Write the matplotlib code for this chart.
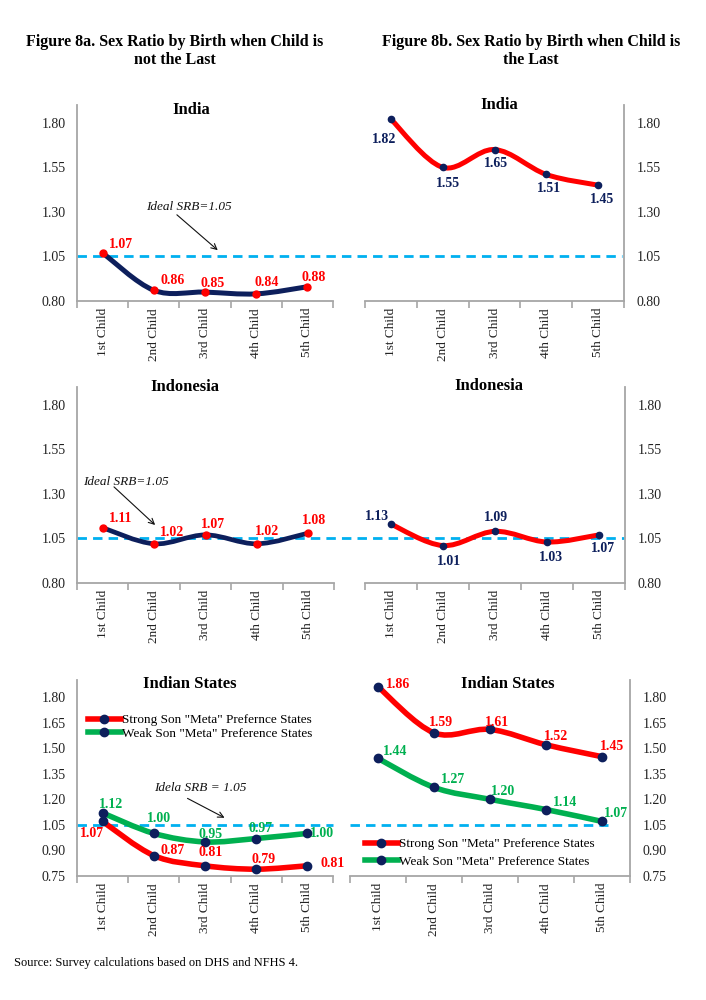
import numpy as np
import matplotlib
matplotlib.use("Agg")
import matplotlib.pyplot as plt
from matplotlib.path import Path
from matplotlib.patches import PathPatch
from matplotlib.lines import Line2D

# ---------------- data ----------------
categories = ["1st Child", "2nd Child", "3rd Child", "4th Child", "5th Child"]
ideal_srb = 1.05

india_not_last = [1.07, 0.86, 0.85, 0.84, 0.88]
india_last = [1.82, 1.55, 1.65, 1.51, 1.45]
indonesia_not_last = [1.11, 1.02, 1.07, 1.02, 1.08]
indonesia_last = [1.13, 1.01, 1.09, 1.03, 1.07]
states_strong_not_last = [1.07, 0.87, 0.81, 0.79, 0.81]
states_weak_not_last = [1.12, 1.00, 0.95, 0.97, 1.00]
states_strong_last = [1.86, 1.59, 1.61, 1.52, 1.45]
states_weak_last = [1.44, 1.27, 1.20, 1.14, 1.07]

yticks_top = [0.80, 1.05, 1.30, 1.55, 1.80]
yticks_bottom = [0.75, 0.90, 1.05, 1.20, 1.35, 1.50, 1.65, 1.80]

series_names = ['Strong Son "Meta" Preference States', 'Weak Son "Meta" Preference States']
series_names_left = ['Strong Son "Meta" Prefernce States', 'Weak Son "Meta" Preference States']

# ---------------- style ----------------
SERIF = "Liberation Serif"
plt.rcParams["font.family"] = [SERIF, "DejaVu Serif"]
NAVY = "#0D1F5C"
RED = "#FF0000"
GREEN = "#00B050"
SKY = "#00B0F0"
SPINE = "#A6A6A6"
TXT = "#222222"

W, H = 706, 1000
fig = plt.figure(figsize=(W / 100, H / 100), dpi=100)


def fax(x0, x1, ytop, ybot):
    return fig.add_axes([x0 / W, 1 - ybot / H, (x1 - x0) / W, (ybot - ytop) / H])


def smooth_path(xs, ys):
    pts = np.column_stack([xs, ys]).astype(float)
    n = len(pts)
    verts = [pts[0]]
    codes = [Path.MOVETO]
    for i in range(n - 1):
        p0 = pts[i - 1] if i > 0 else pts[i]
        p1 = pts[i]
        p2 = pts[i + 1]
        p3 = pts[i + 2] if i + 2 < n else pts[i + 1]
        c1 = p1 + (p2 - p0) / 6.0
        c2 = p2 - (p3 - p1) / 6.0
        verts += [c1, c2, p2]
        codes += [Path.CURVE4] * 3
    return Path(verts, codes)


def style_axes(ax, side, yticks, ylim):
    x = np.arange(1, len(categories) + 1)
    ax.set_xlim(0.5, len(categories) + 0.5)
    ax.set_ylim(*ylim)
    ax.set_facecolor("none")
    for s in ["top", "left", "right"]:
        ax.spines[s].set_visible(False)
    ax.spines[side].set_visible(True)
    for s in ["bottom", side]:
        ax.spines[s].set_color(SPINE)
        ax.spines[s].set_linewidth(1.3)
    ax.set_xticks(x)
    ax.set_xticklabels(categories, rotation=90, fontsize=9.5, color=TXT)
    ax.set_xticks(np.arange(0.5, len(categories) + 1, 1.0), minor=True)
    ax.tick_params(axis="x", which="major", length=0, pad=5)
    ax.tick_params(axis="x", which="minor", length=5, color=SPINE, width=1.2, direction="out")
    ax.set_yticks(yticks)
    ax.set_yticklabels([f"{v:.2f}" for v in yticks], fontsize=10, color=TXT)
    if side == "right":
        ax.yaxis.tick_right()
        ax.tick_params(axis="y", length=0, pad=9)
    else:
        ax.tick_params(axis="y", length=0, pad=8)
    return x


def draw_series(ax, x, vals, line_color, marker_color, lw, ms, label_color, offsets):
    ax.add_patch(PathPatch(smooth_path(x, vals), facecolor="none", edgecolor=line_color,
                           lw=lw, capstyle="round", joinstyle="round", zorder=3))
    ax.plot(x, vals, "o", color=marker_color, ms=ms, zorder=4, clip_on=False)
    for xi, v, (dx, dy) in zip(x, vals, offsets):
        ax.annotate(f"{v:.2f}", (xi, v), xytext=(dx * 0.72, -dy * 0.72),
                    textcoords="offset points", ha="center", va="center",
                    fontsize=10, fontweight="bold", color=label_color, zorder=5,
                    annotation_clip=False)


def dashed(ax, x0, x1):
    ax.plot([x0, x1], [ideal_srb, ideal_srb], color=SKY, lw=2.0,
            linestyle=(0, (3.4, 2.2)), transform=ax.get_yaxis_transform(),
            clip_on=False, zorder=1)


def ideal_note(ax, text, txy, start, tip):
    ax.text(*txy, text, fontsize=9.5, fontstyle="italic", ha="center", va="center", color="#111111")
    ax.annotate("", xy=tip, xytext=start,
                arrowprops=dict(arrowstyle="->", color="#111111", lw=0.8, mutation_scale=10))


# ---------------- titles ----------------
fig.text(175 / W, 1 - 51 / H, "Figure 8a. Sex Ratio by Birth when Child is\nnot the Last",
         ha="center", va="center", fontsize=11.5, fontweight="bold", linespacing=1.25)
fig.text(531 / W, 1 - 51 / H, "Figure 8b. Sex Ratio by Birth when Child is\nthe Last",
         ha="center", va="center", fontsize=11.5, fontweight="bold", linespacing=1.25)

sub = dict(ha="center", va="center", fontsize=12, fontweight="bold")
fig.text(191 / W, 1 - 110 / H, "India", **sub)
fig.text(499 / W, 1 - 105 / H, "India", **sub)
fig.text(185 / W, 1 - 387 / H, "Indonesia", **sub)
fig.text(489 / W, 1 - 386 / H, "Indonesia", **sub)
fig.text(190 / W, 1 - 684 / H, "Indian States", **sub)
fig.text(508 / W, 1 - 684 / H, "Indian States", **sub)

# ---------------- row 1: India ----------------
ax = fax(77, 333, 105, 301)
x = style_axes(ax, "left", yticks_top, (0.80, 1.90))
dashed(ax, 0.0, 2.13)
draw_series(ax, x, india_not_last, NAVY, RED, 3.6, 5, RED,
            [(18, -8), (19, -10), (8, -9), (10, -11), (6, -9)])
ideal_note(ax, "Ideal SRB=1.05", (2.69, 1.33), (2.41, 1.294), (3.29, 1.075))

ax = fax(365, 624, 105, 301)
x = style_axes(ax, "right", yticks_top, (0.80, 1.90))
draw_series(ax, x, india_last, RED, NAVY, 3.6, 4.5, NAVY,
            [(-7, 20), (5, 16), (2, 14), (3, 14), (4, 14)])

# ---------------- row 2: Indonesia ----------------
ax = fax(77, 334, 387, 583)
x = style_axes(ax, "left", yticks_top, (0.80, 1.90))
dashed(ax, 0.0, 2.13)
draw_series(ax, x, indonesia_not_last, NAVY, RED, 3.4, 5, RED,
            [(18, -9), (18, -11), (8, -10), (10, -12), (6, -13)])
ideal_note(ax, "Ideal SRB=1.05", (1.45, 1.367), (1.18, 1.35), (2.06, 1.115))

ax = fax(365, 625, 387, 583)
x = style_axes(ax, "right", yticks_top, (0.80, 1.90))
draw_series(ax, x, indonesia_last, RED, NAVY, 3.6, 4.5, NAVY,
            [(-14, -8), (6, 16), (1, -14), (4, 15), (4, 14)])

# ---------------- row 3: Indian States ----------------
ax = fax(77, 333, 680, 876)
x = style_axes(ax, "left", yticks_bottom, (0.75, 1.90))
dashed(ax, 0.0, 1.0)
draw_series(ax, x, states_weak_not_last, GREEN, NAVY, 4.0, 6, GREEN,
            [(8, -8), (5, -15), (6, -7), (4, -10), (15, 0)])
draw_series(ax, x, states_strong_not_last, RED, NAVY, 4.0, 6, RED,
            [(-11, 12), (19, -5), (6, -13), (7, -10), (25, -2)])
ideal_note(ax, "Idela SRB = 1.05", (2.9, 1.266), (2.61, 1.213), (3.43, 1.084))
handles = [Line2D([], [], color=RED, lw=4, marker="o", ms=6, mfc=NAVY, mec=NAVY),
           Line2D([], [], color=GREEN, lw=4, marker="o", ms=6, mfc=NAVY, mec=NAVY)]
fig.legend(handles, series_names_left, loc="upper left",
           bbox_to_anchor=(88 / W, 1 - 714 / H), bbox_transform=fig.transFigure,
           frameon=False, fontsize=9.5, handlelength=2.5, handletextpad=0.1,
           labelspacing=0.12, borderpad=0, borderaxespad=0)

ax = fax(350, 630, 680, 876)
x = style_axes(ax, "right", yticks_bottom, (0.75, 1.90))
dashed(ax, 0.0, 0.92)
draw_series(ax, x, states_strong_last, RED, NAVY, 4.0, 6, RED,
            [(20, -2), (7, -10), (7, -7), (10, -8), (10, -10)])
draw_series(ax, x, states_weak_last, GREEN, NAVY, 4.0, 6, GREEN,
            [(17, -7), (19, -8), (13, -8), (19, -7), (14, -8)])
fig.legend(handles, series_names, loc="upper left",
           bbox_to_anchor=(365 / W, 1 - 838 / H), bbox_transform=fig.transFigure,
           frameon=False, fontsize=9.5, handlelength=2.5, handletextpad=0.1,
           labelspacing=0.4, borderpad=0, borderaxespad=0)

fig.text(14 / W, 1 - 963 / H, "Source: Survey calculations based on DHS and NFHS 4.",
         ha="left", va="center", fontsize=9)

fig.savefig("out.png", dpi=100)
